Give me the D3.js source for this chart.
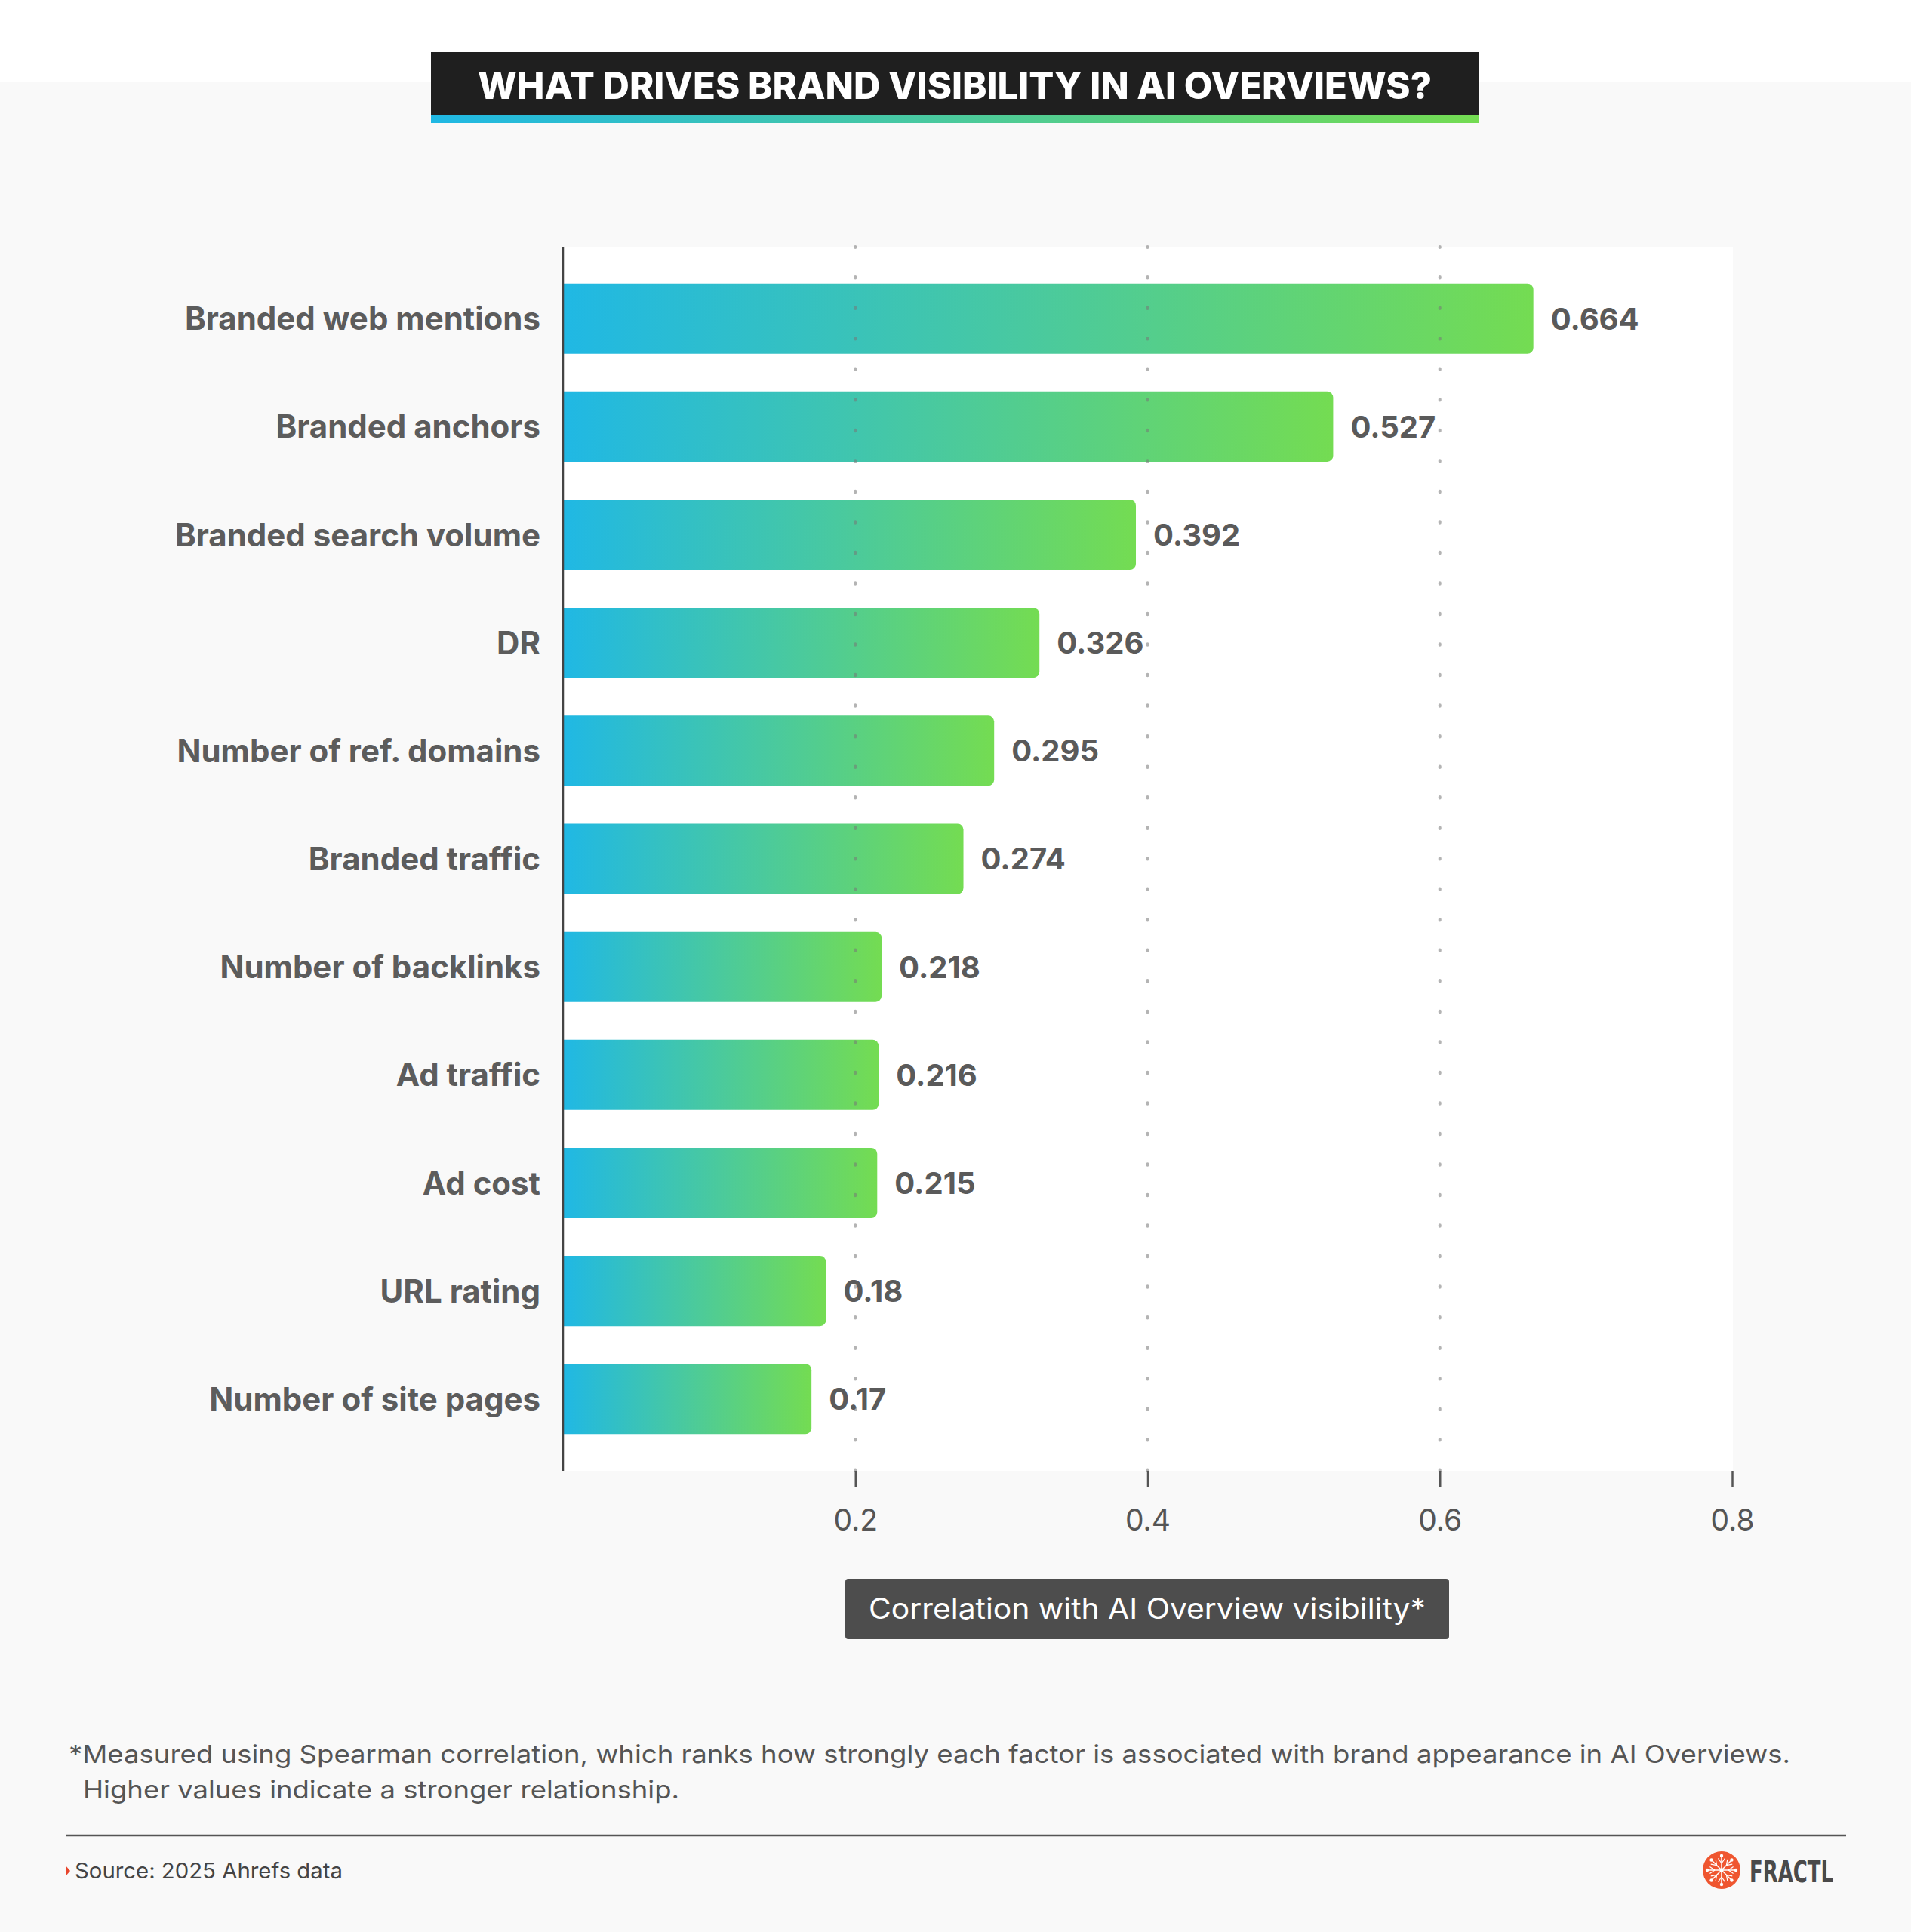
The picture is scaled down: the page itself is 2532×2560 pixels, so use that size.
<!DOCTYPE html>
<html>
<head>
<meta charset="utf-8">
<script src="https://cdn.jsdelivr.net/npm/d3@7"></script>
<style>
  body { margin: 0; background: #f9f9f9; }
  svg { display: block; font-family: Inter, "Noto Sans", sans-serif; }
</style>
</head>
<body>
<div id="chart"></div>
<script>
const categories = [
    'Branded web mentions',
    'Branded anchors',
    'Branded search volume',
    'DR',
    'Number of ref. domains',
    'Branded traffic',
    'Number of backlinks',
    'Ad traffic',
    'Ad cost',
    'URL rating',
    'Number of site pages'
];
const values = [0.664, 0.527, 0.392, 0.326, 0.295, 0.274, 0.218, 0.216, 0.215, 0.18, 0.17];
const xTicks = [0.2, 0.4, 0.6, 0.8];
const gridTicks = [0.2, 0.4, 0.6];

const title = 'WHAT DRIVES BRAND VISIBILITY IN AI OVERVIEWS?';
const axisTitle = 'Correlation with AI Overview visibility*';
const notes = [
    '*Measured using Spearman correlation, which ranks how strongly each factor is associated with brand appearance in AI Overviews.',
    'Higher values indicate a stronger relationship.'
];
const source = 'Source: 2025 Ahrefs data';

const width = 2532;
const height = 2560;
const plotLeft = 746;
const plotRight = 2296;
const plotTop = 327;
const plotBottom = 1949;

const svg = d3.select('#chart')
    .append('svg')
    .attr('width', width)
    .attr('height', height);

// fit a text element to a target width (fonts differ from the original)
function fitWidth(sel, target) {
    let w = sel.node().getComputedTextLength();
    if (Math.abs(w - target) / target > 0.02) {
        sel.attr('textLength', target).attr('lengthAdjust', 'spacingAndGlyphs');
    }
}

const defs = svg.append('defs');
const grad = defs.append('linearGradient').attr('id', 'barGrad');
grad.append('stop').attr('offset', '0%').attr('stop-color', '#20b8e4');
grad.append('stop').attr('offset', '50%').attr('stop-color', '#4bca9c');
grad.append('stop').attr('offset', '100%').attr('stop-color', '#74dc52');

// backgrounds
svg.append('rect').attr('width', width).attr('height', height).attr('fill', '#f9f9f9');
svg.append('rect').attr('width', width).attr('height', 109).attr('fill', '#ffffff');

// title
svg.append('rect')
    .attr('x', 571).attr('y', 69)
    .attr('width', 1388).attr('height', 86)
    .attr('fill', '#1f1f1f');
svg.append('rect')
    .attr('x', 571).attr('y', 153)
    .attr('width', 1388).attr('height', 10)
    .attr('fill', 'url(#barGrad)');
const titleText = svg.append('text')
    .attr('x', 1265).attr('y', 131)
    .attr('text-anchor', 'middle')
    .attr('font-size', 50)
    .attr('font-weight', 800)
    .attr('fill', '#ffffff')
    .text(title);
fitWidth(titleText, 1264);

// plot area
svg.append('rect')
    .attr('x', plotLeft).attr('y', plotTop)
    .attr('width', plotRight - plotLeft).attr('height', plotBottom - plotTop)
    .attr('fill', '#ffffff');

const xScale = d3.scaleLinear()
    .domain([0, 0.8])
    .range([plotLeft, 2295]);

const yScale = d3.scaleBand()
    .domain(categories)
    .range([plotTop, plotBottom])
    .paddingInner(0.35)
    .paddingOuter(0.34);

function barPath(x0, x1, y, h, r) {
    return `M${x0},${y}H${x1 - r}A${r},${r} 0 0 1 ${x1},${y + r}V${y + h - r}A${r},${r} 0 0 1 ${x1 - r},${y + h}H${x0}Z`;
}

// bars
svg.append('g')
    .selectAll('path')
    .data(values)
    .enter()
    .append('path')
    .attr('d', (d, i) => barPath(xScale(0) + 1, xScale(d), yScale(categories[i]), yScale.bandwidth(), 8))
    .attr('fill', 'url(#barGrad)');

// dotted gridlines, drawn on top of bars
svg.append('g')
    .selectAll('line')
    .data(gridTicks)
    .enter()
    .append('line')
    .attr('x1', d => xScale(d)).attr('x2', d => xScale(d))
    .attr('y1', plotBottom).attr('y2', plotTop)
    .attr('stroke', '#777')
    .attr('stroke-opacity', 0.55)
    .attr('stroke-width', 4)
    .attr('stroke-linecap', 'round')
    .attr('stroke-dasharray', '1.5,39.025');

// y axis line
svg.append('line')
    .attr('x1', plotLeft).attr('x2', plotLeft)
    .attr('y1', plotTop).attr('y2', plotBottom)
    .attr('stroke', '#444')
    .attr('stroke-width', 2.5);

// category labels
svg.append('g')
    .selectAll('text')
    .data(categories)
    .enter()
    .append('text')
    .attr('x', 716)
    .attr('y', d => yScale(d) + yScale.bandwidth() / 2)
    .attr('dy', '0.36em')
    .attr('text-anchor', 'end')
    .attr('font-size', 42)
    .attr('font-weight', 700)
    .attr('fill', '#5c5c5c')
    .text(d => d);

// value labels
svg.append('g')
    .selectAll('text')
    .data(values)
    .enter()
    .append('text')
    .attr('x', d => xScale(d) + 23)
    .attr('y', (d, i) => yScale(categories[i]) + yScale.bandwidth() / 2)
    .attr('dy', '0.36em')
    .attr('font-size', 40)
    .attr('font-weight', 700)
    .attr('fill', '#5a5a5a')
    .text(d => d);

// x axis
const xAxis = svg.append('g')
    .attr('transform', `translate(0,${plotBottom})`)
    .call(d3.axisBottom(xScale).tickValues(xTicks).tickSize(22).tickFormat(d3.format('.1f')));
xAxis.select('.domain').remove();
xAxis.selectAll('.tick line').attr('stroke', '#555').attr('stroke-width', 2.5);
xAxis.selectAll('.tick text')
    .attr('y', 79)
    .attr('dy', null)
    .attr('font-size', 39)
    .attr('font-family', 'Inter, sans-serif')
    .attr('fill', '#555');

// axis title box
svg.append('rect')
    .attr('x', 1120).attr('y', 2092)
    .attr('width', 800).attr('height', 80)
    .attr('rx', 4)
    .attr('fill', '#4d4d4d');
const axisTitleText = svg.append('text')
    .attr('x', 1520).attr('y', 2145)
    .attr('text-anchor', 'middle')
    .attr('font-size', 38)
    .attr('fill', '#ffffff')
    .text(axisTitle);
fitWidth(axisTitleText, 738);

// notes
const note1 = svg.append('text')
    .attr('x', 91).attr('y', 2336)
    .attr('font-size', 33)
    .attr('fill', '#555')
    .text(notes[0]);
fitWidth(note1, 2281);
const note2 = svg.append('text')
    .attr('x', 110).attr('y', 2383)
    .attr('font-size', 33)
    .attr('fill', '#555')
    .text(notes[1]);
fitWidth(note2, 790);

svg.append('line')
    .attr('x1', 87).attr('x2', 2446)
    .attr('y1', 2432).attr('y2', 2432)
    .attr('stroke', '#555')
    .attr('stroke-width', 2.5);

// source
svg.append('path')
    .attr('d', 'M87,2472L93,2479L87,2486Z')
    .attr('fill', '#e8452c');
const sourceText = svg.append('text')
    .attr('x', 99).attr('y', 2489)
    .attr('font-size', 28)
    .attr('fill', '#444')
    .text(source);
fitWidth(sourceText, 355);

// logo
const logo = svg.append('g').attr('transform', 'translate(2281,2478)');
logo.append('circle').attr('r', 25).attr('fill', '#ef5630');
d3.range(8).forEach(k => {
    const a = k * Math.PI / 4;
    const ca = Math.cos(a), sa = Math.sin(a);
    logo.append('line')
        .attr('x1', 0).attr('y1', 0)
        .attr('x2', 19 * ca).attr('y2', 19 * sa)
        .attr('stroke', '#fff').attr('stroke-width', 1.5);
    logo.append('circle')
        .attr('cx', 19 * ca).attr('cy', 19 * sa)
        .attr('r', 2.2).attr('fill', '#fff');
    [-1, 1].forEach(s => {
        const b = a + s * 0.6;
        logo.append('line')
            .attr('x1', 9 * ca).attr('y1', 9 * sa)
            .attr('x2', 9 * ca + 8 * Math.cos(b)).attr('y2', 9 * sa + 8 * Math.sin(b))
            .attr('stroke', '#fff').attr('stroke-width', 1.2);
    });
});
logo.append('circle').attr('r', 2.5).attr('fill', '#fff');
const logoText = svg.append('text')
    .attr('x', 2318).attr('y', 2494)
    .attr('font-family', '"Liberation Sans Narrow", "DejaVu Sans Condensed", sans-serif')
    .attr('font-size', 39)
    .attr('font-weight', 700)
    .attr('fill', '#4a4a4a')
    .text('FRACTL');
fitWidth(logoText, 111);
</script>
</body>
</html>
